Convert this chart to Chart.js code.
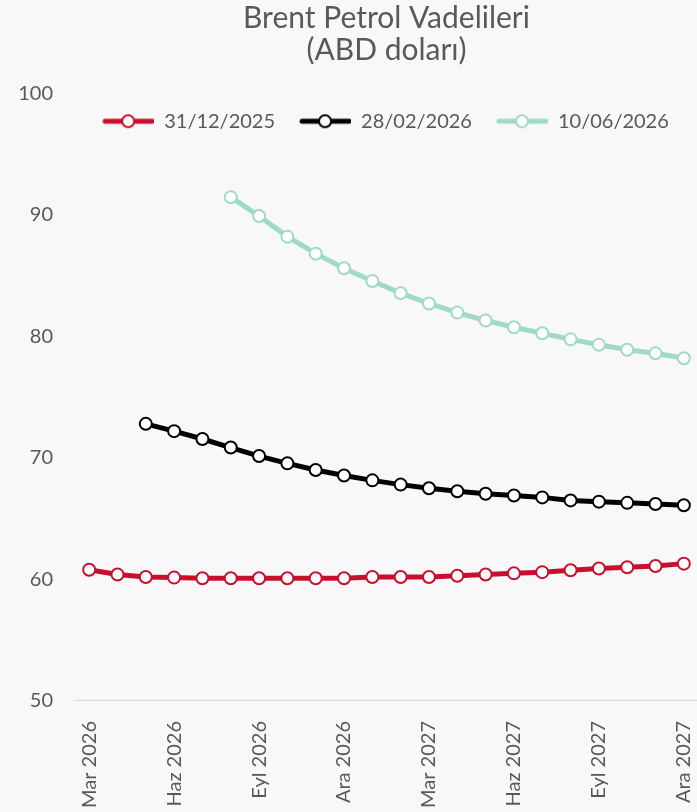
<!DOCTYPE html>
<html><head>
<meta charset="UTF-8">
<title>Brent Petrol Vadelileri</title>
<script src="https://cdn.jsdelivr.net/npm/chart.js"></script>
<style>
    html, body {
        margin: 0;
        padding: 0;
        background: #f8f8f8;
        overflow: hidden;
    }
    #wrap {
        position: absolute;
        left: 0;
        top: 0;
    }
</style>
</head>
<body>
<div id="wrap"><canvas id="myChart" width="706" height="820"></canvas></div>
<script>
    // months on the x axis (only every 3rd one is labelled)
    const months = ['Mar 2026', 'Nis 2026', 'May 2026', 'Haz 2026', 'Tem 2026', 'Ağu 2026',
        'Eyl 2026', 'Eki 2026', 'Kas 2026', 'Ara 2026', 'Oca 2027', 'Şub 2027',
        'Mar 2027', 'Nis 2027', 'May 2027', 'Haz 2027', 'Tem 2027', 'Ağu 2027',
        'Eyl 2027', 'Eki 2027', 'Kas 2027', 'Ara 2027'];

    const curveDec25 = [60.8, 60.4, 60.2, 60.15, 60.1, 60.1, 60.1, 60.1, 60.1, 60.1, 60.2,
        60.2, 60.2, 60.3, 60.4, 60.5, 60.6, 60.75, 60.9, 61.0, 61.1, 61.3];
    const curveFeb26 = [null, null, 72.8, 72.2, 71.55, 70.85, 70.15, 69.55, 69.0, 68.55, 68.15,
        67.8, 67.5, 67.25, 67.05, 66.9, 66.75, 66.5, 66.4, 66.3, 66.2, 66.1];
    const curveJun26 = [null, null, null, null, null, 91.45, 89.9, 88.2, 86.8, 85.6, 84.55,
        83.55, 82.7, 81.95, 81.3, 80.75, 80.25, 79.75, 79.3, 78.9, 78.6, 78.2];

    const seriesNames = ['31/12/2025', '28/02/2026', '10/06/2026'];
    const seriesColors = ['#c8102e', '#000000', '#a0d9c9'];
    const yTicks = [50, 60, 70, 80, 90, 100];

    const font = 'Lato';
    const textColor = '#595959';

    // little line + marker image for the legend
    function legendIcon(color) {
        const c = document.createElement('canvas');
        c.width = 54;
        c.height = 16;
        const g = c.getContext('2d');
        g.strokeStyle = color;
        g.lineWidth = 5;
        g.lineCap = 'round';
        g.beginPath();
        g.moveTo(5, 8);
        g.lineTo(52, 8);
        g.stroke();
        g.beginPath();
        g.arc(28, 8, 6, 0, Math.PI * 2);
        g.fillStyle = '#ffffff';
        g.fill();
        g.lineWidth = 2;
        g.stroke();
        return c;
    }

    function makeSet(i, data) {
        return {
            label: seriesNames[i],
            data: data,
            borderColor: seriesColors[i],
            borderWidth: 5,
            pointRadius: 6,
            pointBorderWidth: 2,
            pointBackgroundColor: '#ffffff',
            pointBorderColor: seriesColors[i],
            tension: 0,
            fill: false
        };
    }

    // legend sits inside the plot area but laid out in one row
    const rowLegend = {
        id: 'rowLegend',
        afterInit(chart) {
            if (chart.legend) {
                chart.legend.isHorizontal = function () { return true; };
            }
        },
        afterLayout(chart) {
            const lg = chart.legend;
            if (!lg) return;
            const dx = chart.chartArea.left - lg.left - 2;
            lg.left += dx;
            lg.right += dx;
            lg.top -= 4;
            lg.bottom -= 4;
        }
    };

    const ctx = document.getElementById('myChart').getContext('2d');
    new Chart(ctx, {
        type: 'line',
        data: {
            labels: months,
            datasets: [makeSet(0, curveDec25), makeSet(1, curveFeb26), makeSet(2, curveJun26)]
        },
        plugins: [rowLegend],
        options: {
            responsive: false,
            animation: false,
            layout: { padding: { left: 0, right: 1, top: 0, bottom: 0 } },
            plugins: {
                title: {
                    display: true,
                    fullSize: false,
                    text: ['Brent Petrol Vadelileri', '(ABD doları)'],
                    color: textColor,
                    font: { family: font, size: 30, weight: 'normal', lineHeight: 1.07 },
                    padding: { top: 2, bottom: 27 }
                },
                legend: {
                    position: 'chartArea',
                    align: 'center',
                    labels: {
                        usePointStyle: true,
                        pointStyleWidth: 54,
                        padding: 22,
                        color: textColor,
                        font: { family: font, size: 20 },
                        generateLabels: function (chart) {
                            return chart.data.datasets.map(function (ds, i) {
                                return {
                                    text: ds.label,
                                    fontColor: textColor,
                                    pointStyle: legendIcon(seriesColors[i]),
                                    datasetIndex: i,
                                    lineWidth: 0,
                                    strokeStyle: 'transparent',
                                    fillStyle: 'transparent'
                                };
                            });
                        }
                    }
                },
                tooltip: { enabled: false }
            },
            scales: {
                x: {
                    offset: true,
                    grid: { display: false },
                    border: { display: true, color: '#d9d9d9', width: 1 },
                    afterFit: function (axis) {
                        axis.paddingLeft = 0;
                        axis.paddingRight = 0;
                    },
                    ticks: {
                        autoSkip: false,
                        minRotation: 90,
                        maxRotation: 90,
                        padding: 12,
                        color: textColor,
                        font: { family: font, size: 20 },
                        callback: function (val, idx) {
                            return idx % 3 === 0 ? months[idx] : '';
                        }
                    }
                },
                y: {
                    min: 50,
                    max: 100,
                    grid: { display: false, drawTicks: false },
                    border: { display: false },
                    afterBuildTicks: function (axis) {
                        axis.ticks = yTicks.map(v => ({ value: v }));
                    },
                    afterFit: function (axis) {
                        axis.width = 75;
                    },
                    ticks: {
                        padding: 22,
                        color: textColor,
                        font: { family: font, size: 20 }
                    }
                }
            }
        }
    });
</script>
</body></html>
